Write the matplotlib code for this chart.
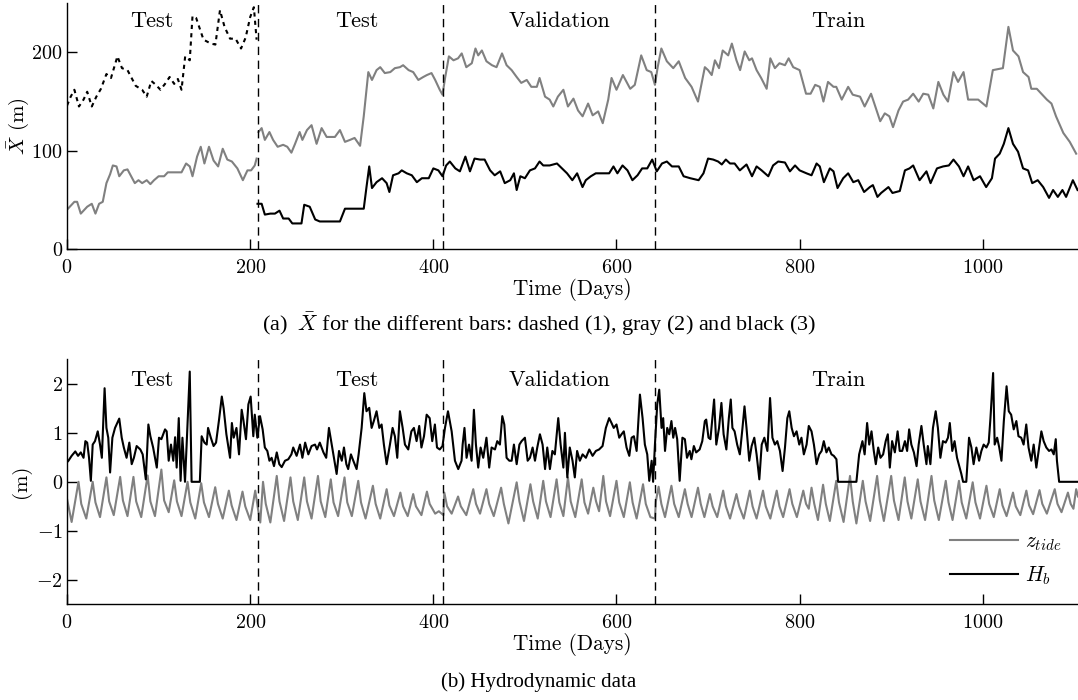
import matplotlib
matplotlib.use("Agg")
import matplotlib.pyplot as plt

plt.rcParams['font.family'] = 'serif'
plt.rcParams['font.serif'] = ['cmr10', 'DejaVu Serif']
plt.rcParams['mathtext.fontset'] = 'cm'
plt.rcParams['axes.formatter.use_mathtext'] = True

# ---- data ----
# top panel: mean bar position, bar 1 (dashed), bar 2 (gray), bar 3 (black)
bar1 = [(0, 146), (4, 155), (8, 162), (13, 145), (18, 152), (22, 160), (27, 145), (32, 155),
        (37, 163), (43, 178), (48, 174), (55, 196), (60, 184), (66, 182), (75, 166), (82, 162),
        (87, 155), (92, 171), (97, 167), (102, 162), (107, 168), (112, 175), (117, 168), (121, 173),
        (125, 162), (129, 196), (134, 192), (137, 237), (141, 235), (149, 213), (157, 209), (162, 208),
        (167, 243), (172, 226), (178, 214), (184, 214), (190, 204), (195, 215), (200, 236), (204, 246),
        (207, 213)]

bar2_a = [(0, 40), (4, 44), (8, 48), (11, 48), (15, 36), (22, 43), (27, 46), (31, 36), (35, 46),
          (39, 48), (43, 67), (47, 76), (50, 85), (54, 84), (57, 74), (62, 80), (66, 81), (70, 74),
          (74, 67), (78, 70), (82, 67), (87, 70), (91, 66), (95, 70), (100, 74), (106, 74), (110, 78),
          (118, 78), (125, 78), (130, 87), (134, 84), (137, 74), (142, 94), (146, 104), (150, 87),
          (155, 104), (160, 90), (165, 84), (170, 102), (175, 91), (180, 89), (186, 82), (192, 70),
          (197, 80), (201, 80), (205, 85), (207, 92)]

bar2_b = [(209, 119), (212.5, 123), (216, 111), (221, 119), (225, 111), (230, 104), (236, 106),
          (240.5, 104), (245, 98), (249, 107), (254, 119), (257, 111), (262, 121), (267, 126),
          (272.5, 107), (278, 123), (283.5, 114), (289, 114), (292.5, 114), (298, 121), (303.5, 109),
          (309, 111), (314, 113), (320, 105), (324, 135), (329, 180), (333, 172), (338, 182),
          (342, 185), (347, 179), (353, 180), (358, 184), (363.5, 185), (367, 187), (373, 182),
          (378, 180), (383.6, 172), (389, 175), (393, 177), (398, 179), (402, 172), (407, 162),
          (410, 157), (413, 175), (417, 196), (422, 192), (427, 194), (431, 199), (436, 185),
          (442, 189), (446, 204), (449, 197), (453, 202), (458, 191), (464, 187), (469, 185),
          (475, 199), (480, 187), (485.5, 182), (491, 175), (496, 169), (502, 172), (507, 165),
          (513, 165), (516, 174), (522, 155), (527, 152), (531, 145), (536, 155), (542, 162),
          (547, 145), (553, 153), (558, 141), (563, 135), (569, 148), (574, 136), (580, 140),
          (585, 128), (591, 152), (594.6, 174), (600, 162), (607, 177), (615, 163), (620, 167),
          (627, 197), (633, 182), (638, 180), (642, 167), (645, 185), (649, 204), (655, 191),
          (662, 184), (668, 191), (675, 174), (682, 165), (689, 150), (696.5, 185), (700, 182),
          (704, 177), (707.5, 192), (712, 184), (716, 202), (722, 197), (726, 209), (731, 192),
          (735, 182), (740, 201), (745, 192), (748, 194), (753, 182), (758, 174), (764, 163),
          (768, 194), (773, 184), (778, 189), (784, 187), (788, 194), (793, 185), (800, 182),
          (807, 158), (812, 158), (817, 167), (822, 165), (826, 150), (831, 170), (837, 165),
          (840, 165), (846, 152), (853, 165), (858, 157), (866, 155), (871, 145), (878, 158),
          (884, 141), (888, 130), (893, 138), (898, 135), (902, 124), (908, 141), (913, 150),
          (918.5, 152), (924, 158), (930, 150), (935, 158), (940.5, 157), (946, 143), (951.5, 170),
          (957, 157), (962, 150), (968, 180), (973, 170), (979, 180), (984, 152), (990, 152),
          (995, 152), (1004, 145), (1011, 182), (1022, 184), (1028, 226), (1033, 202), (1039, 196),
          (1044, 180), (1050, 175), (1053, 163), (1059, 163), (1064, 158), (1070, 152), (1075, 148),
          (1080, 135), (1088, 118), (1095, 109), (1102, 97)]

bar3 = [(208, 46), (212.5, 46), (216, 35), (222, 36), (227, 36), (232, 39), (236, 31), (242, 31),
        (246, 26), (256, 26), (259, 45), (265, 43), (271, 30), (276, 28), (298, 28), (303.5, 41),
        (324, 41), (327, 63), (330, 84), (333, 62), (338, 68), (344, 72), (349, 67), (352, 58),
        (356, 75), (362, 77), (365.5, 80), (371, 77), (376.5, 75), (382, 68), (387.5, 72), (395, 72),
        (400, 82), (405.5, 80), (410, 74), (414, 85), (418, 89), (424, 82), (429, 79), (435, 94),
        (440, 79), (445, 92), (451, 91), (456, 91), (462, 80), (467, 75), (473, 79), (478, 67),
        (484, 70), (488, 77), (491, 60), (495, 74), (500, 72), (505.5, 80), (511, 82), (516, 89),
        (520, 85), (527, 85), (535, 87), (540.5, 82), (546, 77), (551.8, 70), (557, 77), (562.9, 63),
        (566.5, 70), (572, 74), (577.4, 77), (586.5, 77), (592, 77), (596.7, 84), (601, 77),
        (606.6, 85), (612, 80), (617.4, 70), (623, 75), (628, 82), (633.6, 82), (639, 91), (644, 79),
        (649.7, 87), (655, 89), (660.6, 84), (668, 84), (673.3, 74), (680.6, 72), (689.7, 70),
        (695, 77), (700, 92), (705.6, 91), (711, 89), (715, 86), (719.4, 91), (724, 87), (729, 87),
        (734.7, 80), (742, 86), (748, 74), (753, 84), (758.5, 80), (765.8, 74), (771, 85),
        (776.6, 89), (784, 88), (789.4, 79), (795, 85), (800, 80), (807.5, 77), (813, 75),
        (818.5, 87), (822, 84), (826.5, 68), (833, 82), (837, 79), (841.4, 62), (847.6, 72),
        (853, 77), (858.6, 68), (864, 70), (870.4, 58), (876.7, 63), (880, 65), (885, 53), (889, 57),
        (897, 63), (901.4, 57), (909.4, 59), (915, 80), (920, 82), (924, 85), (931, 70), (938.5, 79),
        (943, 67), (950, 82), (956.7, 84), (963, 85), (968, 91), (974, 84), (979, 74), (984, 84),
        (990, 70), (997, 74), (1003.7, 63), (1010, 72), (1013.4, 92), (1018.5, 97), (1023, 107),
        (1028, 123), (1033, 107), (1038.5, 99), (1044, 82), (1049.5, 80), (1054, 67), (1060, 70),
        (1066, 63), (1072.4, 52), (1076.8, 60), (1082, 53), (1087, 60), (1091, 53), (1098.4, 70),
        (1103.5, 60)]

# bottom panel: tide level and breaking wave height
tide = [(0, -0.35), (5, -0.82), (12.5, 0.0), (15.5, -0.45), (21, -0.75), (28, 0.0), (31, -0.42),
        (36, -0.72), (43, 0.09), (46, -0.4), (51, -0.68), (58, 0.1), (61, -0.38), (66, -0.7),
        (72.5, 0.1), (75.5, -0.4), (81, -0.72), (88, 0.13), (91, -0.4), (96, -0.7), (103, 0.25),
        (106, -0.38), (111, -0.62), (117, 0.03), (120, -0.4), (125, -0.7), (131.6, 0.0),
        (134.6, -0.42), (140, -0.75), (146.5, -0.03), (149.5, -0.42), (155, -0.72), (161.8, -0.11),
        (164.8, -0.45), (170, -0.75), (176.7, -0.18), (179.7, -0.48), (185, -0.78), (191.6, -0.2),
        (194.6, -0.5), (200, -0.78), (205.5, -0.18), (208, -0.5), (208.5, -0.55), (211, -0.83),
        (214, 0.0), (217, -0.45), (222, -0.83), (229, 0.12), (232, -0.4), (237, -0.8), (244, 0.09),
        (247, -0.4), (252, -0.78), (259, 0.09), (262, -0.4), (267, -0.75), (274, 0.12), (277, -0.4),
        (282, -0.72), (288, 0.05), (291, -0.42), (296, -0.7), (303, 0.09), (306, -0.42), (311, -0.7),
        (318, 0.02), (321, -0.42), (326, -0.75), (334, -0.08), (337, -0.45), (342, -0.75),
        (349, -0.15), (352, -0.48), (357, -0.7), (364, -0.22), (367, -0.5), (372, -0.7),
        (378, -0.25), (381, -0.5), (387, -0.68), (393, -0.2), (396, -0.45), (402, -0.65),
        (406, -0.6), (411, -0.68), (412, -0.22), (415, -0.5), (420, -0.65), (427, -0.3), (430, -0.5),
        (436, -0.68), (443.6, -0.15), (446.6, -0.45), (451, -0.65), (458, -0.15), (461, -0.45),
        (466, -0.7), (474, -0.12), (477, -0.45), (482, -0.85), (491, -0.01), (494, -0.4),
        (499, -0.8), (506, -0.05), (509, -0.4), (514, -0.75), (520, 0.02), (523, -0.4),
        (528, -0.72), (534.6, 0.05), (537.6, -0.42), (542, -0.7), (547, 0.09), (550, -0.4),
        (555, -0.72), (562, 0.05), (565, -0.42), (569, -0.65), (574.7, -0.12), (577.7, -0.4),
        (581, -0.6), (585.6, 0.12), (588.6, -0.4), (593, -0.7), (600, 0.02), (603, -0.42),
        (608, -0.72), (614.6, -0.01), (617.6, -0.42), (622, -0.75), (629, -0.05), (632, -0.45),
        (637, -0.72), (642, -0.75), (643, -0.4), (646, -0.1), (649, -0.45), (653, -0.72),
        (660, -0.08), (663, -0.45), (668, -0.72), (674.7, -0.15), (677.7, -0.45), (682, -0.72),
        (689, -0.12), (692, -0.45), (696, -0.72), (702, -0.25), (705, -0.5), (710, -0.72),
        (716.5, -0.18), (719.5, -0.5), (724, -0.75), (731, -0.25), (734, -0.5), (739, -0.75),
        (745.6, -0.18), (748.6, -0.5), (753, -0.75), (760, -0.18), (763, -0.5), (768, -0.75),
        (775, -0.18), (778, -0.5), (782, -0.72), (789, -0.15), (792, -0.45), (797, -0.72),
        (804, -0.18), (807, -0.45), (810, -0.55), (813, -0.12), (816, -0.45), (820, -0.78),
        (825.6, -0.06), (828.6, -0.45), (833, -0.8), (840, 0.02), (843, -0.42), (848, -0.82),
        (855, 0.12), (858, -0.4), (862, -0.85), (869, 0.02), (872, -0.4), (877, -0.8),
        (884.6, 0.12), (887.6, -0.38), (892, -0.8), (900, 0.12), (903, -0.38), (908, -0.78),
        (914.8, 0.09), (917.8, -0.4), (922, -0.75), (929, 0.05), (932, -0.4), (937, -0.78),
        (944, 0.12), (947, -0.38), (952, -0.78), (959.6, 0.02), (962.6, -0.42), (967, -0.78),
        (974, 0.02), (977, -0.42), (982, -0.75), (989, -0.01), (992, -0.42), (997, -0.75),
        (1004, -0.08), (1007, -0.45), (1012, -0.72), (1018.5, -0.15), (1021.5, -0.48), (1026, -0.7),
        (1033, -0.22), (1036, -0.5), (1041, -0.68), (1047.6, -0.18), (1050.6, -0.48), (1055, -0.66),
        (1062, -0.17), (1065, -0.45), (1070, -0.65), (1078.6, -0.15), (1081.6, -0.45), (1086, -0.62),
        (1093, -0.22), (1096, -0.45), (1099, -0.55), (1102, -0.15), (1104, -0.3)]

hb = [(0, 0.4), (1.5, 0.43), (5, 0.53), (9, 0.62), (12, 0.53), (15, 0.6), (18, 0.49), (20, 0.83),
      (22, 0.8), (24, 0.49), (26, 0.02), (28, 0.76), (30.5, 0.83), (33.5, 1.03), (36, 0.76),
      (38, 0.49), (41, 1.91), (43, 1.1), (45, 0.9), (47, 0.19), (49.5, 0.9), (52.4, 1.1), (57, 1.29),
      (59.7, 0.9), (62, 0.7), (65, 0.49), (68, 0.8), (70.6, 0.36), (73, 0.49), (76, 0.73), (80, 0.66),
      (82.6, 0.56), (86, 0.05), (88.8, 1.17), (91, 0.93), (94, 0.7), (98, 0.29), (100.4, 0.9),
      (103, 0.87), (107, 1.07), (108.8, 1.03), (111, 0.43), (113.5, 0.76), (116, 0.43), (118, 0.91),
      (119.7, 0.29), (122, 1.3), (124, 0.02), (126, 0.9), (128.8, 0.0), (130.6, 0.76), (134, 2.25),
      (136, 0.0), (145, 0.0), (147, 0.93), (150, 0.8), (152.5, 0.76), (154, 1.1), (157, 0.9),
      (160, 0.73), (162.7, 0.8), (166, 1.27), (169, 1.74), (171, 1.5), (174, 0.97), (178, 0.49),
      (180, 1.2), (182, 0.9), (185, 1.1), (187.8, 0.56), (190.7, 1.47), (192.5, 1.27), (195.4, 0.87),
      (198, 1.58), (200.5, 1.74), (203.4, 0.93), (205, 1.37), (207.8, 0.9), (210.7, 1.34),
      (213.6, 1.07), (216, 0.7), (218.7, 0.63), (221, 0.43), (223.4, 0.49), (226, 0.32), (229, 0.6),
      (231.8, 0.36), (234.4, 0.3), (238, 0.43), (241.6, 0.46), (245, 0.56), (247, 0.7),
      (250.7, 0.53), (254.4, 0.76), (257, 0.49), (260, 0.8), (263.5, 0.56), (267, 0.73),
      (270.8, 0.76), (273, 0.66), (276, 0.8), (280, 0.6), (283, 0.49), (286, 1.1), (289, 0.76),
      (291.5, 0.49), (294.4, 0.16), (297, 0.63), (300, 0.43), (302.4, 0.7), (305, 0.36), (307, 0.26),
      (310, 0.56), (312.6, 0.43), (316.2, 0.26), (318.4, 0.56), (321.7, 1.1), (324.6, 1.81),
      (327, 1.44), (330, 1.51), (332.6, 1.1), (335, 1.24), (338, 1.44), (341, 1.1), (343.5, 1.17),
      (346, 0.76), (349, 0.36), (352.6, 0.76), (355.5, 1.1), (358, 0.93), (360.6, 0.49),
      (363.5, 1.44), (366.5, 1.1), (369, 0.76), (372.6, 0.66), (376, 1.03), (378.8, 1.1),
      (381.7, 0.83), (384.6, 1.14), (387, 0.7), (389.8, 0.93), (392.7, 1.37), (396, 1.3),
      (398.8, 0.83), (401.7, 1.17), (404, 0.7), (407, 0.66), (410, 0.73), (412.7, 1.1), (416, 1.44),
      (420, 1.03), (423.6, 0.43), (427.2, 0.26), (430.8, 0.43), (432, 0.76), (434, 1.1),
      (436.3, 0.49), (439, 0.76), (441.8, 0.43), (444.3, 1.47), (446.5, 0.76), (449, 0.29),
      (451.6, 0.7), (454.5, 0.49), (458, 0.9), (461, 0.29), (463.6, 0.7), (467.3, 0.66),
      (469.8, 0.83), (472.7, 0.76), (475.3, 1.34), (477.5, 1.17), (480, 0.49), (483, 0.43),
      (485.5, 0.43), (488, 0.76), (491, 0.36), (494, 0.76), (496.4, 0.83), (500, 0.9), (503, 0.43),
      (505.5, 0.49), (508.4, 0.7), (511, 0.43), (513.5, 0.7), (516.4, 0.97), (519.3, 0.76),
      (522, 0.26), (524.4, 0.7), (527.3, 0.26), (530, 0.63), (532.7, 0.56), (536.4, 1.3),
      (539, 0.76), (542, 0.29), (543.7, 1.0), (546.3, 0.09), (549, 0.7), (552, 0.43), (554.5, 0.09),
      (557, 0.63), (560, 0.43), (563, 0.56), (566.6, 0.49), (570.3, 0.66), (573.9, 0.53),
      (577.5, 0.63), (581, 0.66), (584.8, 0.73), (588.4, 1.1), (592, 1.3), (594.6, 1.2), (597, 1.1),
      (600, 1.17), (603, 0.9), (605.5, 0.97), (608, 1.03), (611, 0.7), (614, 0.53), (616.5, 0.9),
      (619, 0.93), (622, 0.63), (625.6, 1.78), (628.5, 1.3), (631, 0.76), (633.6, 0.56),
      (635.8, 0.02), (638.4, 0.43), (640, 0.0), (642, 0.76), (644.5, 1.58), (646.7, 1.88),
      (649.2, 1.1), (651, 1.3), (653, 0.63), (655.4, 1.1), (657.6, 0.97), (660, 1.24), (662, 0.9),
      (664, 1.1), (666.3, 0.87), (669, 0.02), (672, 0.9), (674.7, 0.87), (677, 0.49), (680, 0.63),
      (681.8, 0.46), (684.5, 0.73), (687, 0.6), (690.8, 0.66), (693.7, 0.83), (696.5, 1.24),
      (698, 1.27), (700.5, 0.9), (702.6, 0.87), (705, 1.37), (706.6, 1.68), (709, 0.76), (712, 1.1),
      (714.6, 1.61), (717, 0.97), (720, 0.66), (722.7, 1.3), (724.8, 1.68), (726.6, 1.1),
      (729, 1.03), (731.8, 0.76), (734.7, 0.56), (737.6, 1.1), (739.8, 1.54), (742, 1.1),
      (745, 0.43), (747.6, 0.73), (750.5, 0.9), (753, 0.56), (756, 0.05), (758.6, 0.76),
      (761.5, 0.9), (764.8, 0.63), (767.7, 1.71), (770.3, 0.9), (773, 0.76), (775.6, 0.83),
      (778.5, 0.63), (781.4, 0.22), (784, 0.7), (786.6, 1.3), (788.7, 1.44), (791.3, 1.1),
      (793.8, 0.93), (796.7, 1.03), (799.6, 0.76), (802, 0.9), (804.6, 0.56), (807.6, 0.76),
      (810, 1.14), (813, 1.03), (815.6, 0.76), (818.5, 0.36), (821.4, 0.56), (824, 0.63),
      (826.4, 0.83), (829.3, 0.6), (831.8, 0.7), (834.8, 0.56), (837.3, 0.53), (840.2, 0.46),
      (842, 0.0), (862, 0.0), (865, 0.56), (868.6, 0.83), (871, 0.56), (873.7, 1.2), (876, 0.76),
      (878.5, 1.03), (881, 0.63), (883.2, 0.36), (885.8, 0.7), (888.3, 0.49), (891.2, 0.56),
      (894, 0.83), (896.3, 0.97), (898.5, 0.29), (901, 0.83), (904, 0.6), (907, 1.03), (909.3, 0.63),
      (912, 0.63), (915, 0.83), (917.4, 0.63), (919.6, 1.07), (922, 0.76), (924.8, 0.6),
      (927.7, 0.32), (930, 0.76), (933, 1.14), (935.5, 0.76), (938.5, 0.36), (940, 0.73),
      (942.8, 0.36), (945.6, 1.1), (948.6, 1.44), (951, 1.1), (953.7, 0.49), (956.5, 0.83),
      (959.5, 0.8), (962, 0.9), (964, 1.2), (966.7, 0.63), (969.2, 0.83), (971.9, 0.49),
      (974.7, 0.29), (976.6, 0.16), (978.5, 0.0), (982, 0.0), (985, 0.9), (987.6, 0.7), (990, 0.36),
      (993, 0.7), (996, 0.43), (998.5, 0.63), (1001, 0.76), (1004, 0.7), (1006.5, 0.8),
      (1008.4, 1.3), (1011.3, 2.22), (1013, 0.76), (1015.7, 0.9), (1018, 0.7), (1020.4, 0.43),
      (1023, 1.24), (1026, 1.95), (1028.4, 1.44), (1031, 1.37), (1033.8, 1.07), (1036.7, 1.24),
      (1039, 0.93), (1042, 0.9), (1044.6, 0.76), (1047.5, 1.17), (1050, 0.7), (1053, 0.43),
      (1055.6, 0.76), (1058.5, 0.29), (1061, 0.63), (1064, 1.03), (1066.5, 0.83), (1069.4, 0.7),
      (1072.4, 0.63), (1075, 0.66), (1077.5, 0.56), (1079.7, 0.87), (1081, 0.43), (1083.4, 0.0),
      (1104, 0.0)]

splits = [208, 411, 642]
top_labels = [(93, 'Test'), (317, 'Test'), (538, 'Validation'), (842, 'Train')]

GRAY = '#808080'
FS = 14.5     # tick labels
FS_TXT = 16   # Test / Validation / Train
FS_LAB = 15.3  # axis labels
CAP_FONT = ['Liberation Serif', 'DejaVu Serif']


def xy(pts):
    return [p[0] for p in pts], [p[1] for p in pts]


fig = plt.figure(figsize=(10.78, 7.0), dpi=100)
ax1 = fig.add_axes([0.0622, 0.6443, 0.9378, 0.351])
ax2 = fig.add_axes([0.0622, 0.1367, 0.9378, 0.350])

# top panel
ax1.plot(*xy(bar2_a), color=GRAY, lw=1.5)
ax1.plot(*xy(bar2_b), color=GRAY, lw=1.5)
ax1.plot(*xy(bar3), color='black', lw=1.5)
ax1.plot(*xy(bar1), color='black', lw=1.5, linestyle=(0, (2, 2)))
ax1.set_ylim(0, 250)
ax1.set_yticks([0, 100, 200])
ax1.set_ylabel(r'$\bar{X}$ (m)', fontsize=15)
for x, s in top_labels:
    ax1.text(x, 232, s, ha='center', va='center', fontsize=FS_TXT)

# bottom panel
ax2.plot(*xy(tide), color=GRAY, lw=1.5, label=r'$z_{tide}$')
ax2.plot(*xy(hb), color='black', lw=1.5, label=r'$H_b$')
ax2.set_ylim(-2.5, 2.5)
ax2.set_yticks([-2, -1, 0, 1, 2])
ax2.set_ylabel('(m)', fontsize=15)
for x, s in top_labels:
    ax2.text(x, 2.07, s, ha='center', va='center', fontsize=FS_TXT)
leg = ax2.legend(loc='lower right', frameon=False, fontsize=FS_LAB, handlelength=3.2,
                 handletextpad=0.3, borderaxespad=0.4, labelspacing=0.55)

for ax in (ax1, ax2):
    ax.set_xlim(0, 1104)
    ax.set_xticks([0, 200, 400, 600, 800, 1000])
    for s in splits:
        ax.axvline(s, color='black', lw=1.0, linestyle=(0, (6, 4)))
    ax.spines['top'].set_visible(False)
    ax.spines['right'].set_visible(False)
    ax.spines['left'].set_linewidth(1.0)
    ax.spines['bottom'].set_linewidth(1.0)
    ax.tick_params(direction='in', length=7, width=1.0, labelsize=FS, top=False, right=False)
    ax.tick_params(axis='x', pad=7)
    ax.tick_params(axis='y', pad=3)
    ax.set_xlabel('Time (Days)', fontsize=FS_LAB, labelpad=1)
    ax.yaxis.set_label_coords(-0.036, 0.5)

fig.text(0.5, 0.537, r'(a)  $\bar{X}$ for the different bars: dashed (1), gray (2) and black (3)',
         ha='center', va='center', fontsize=16, family=CAP_FONT)
fig.text(0.5, 0.026, '(b) Hydrodynamic data', ha='center', va='center', fontsize=15,
         family=CAP_FONT)

fig.savefig('out.png', dpi=100)
